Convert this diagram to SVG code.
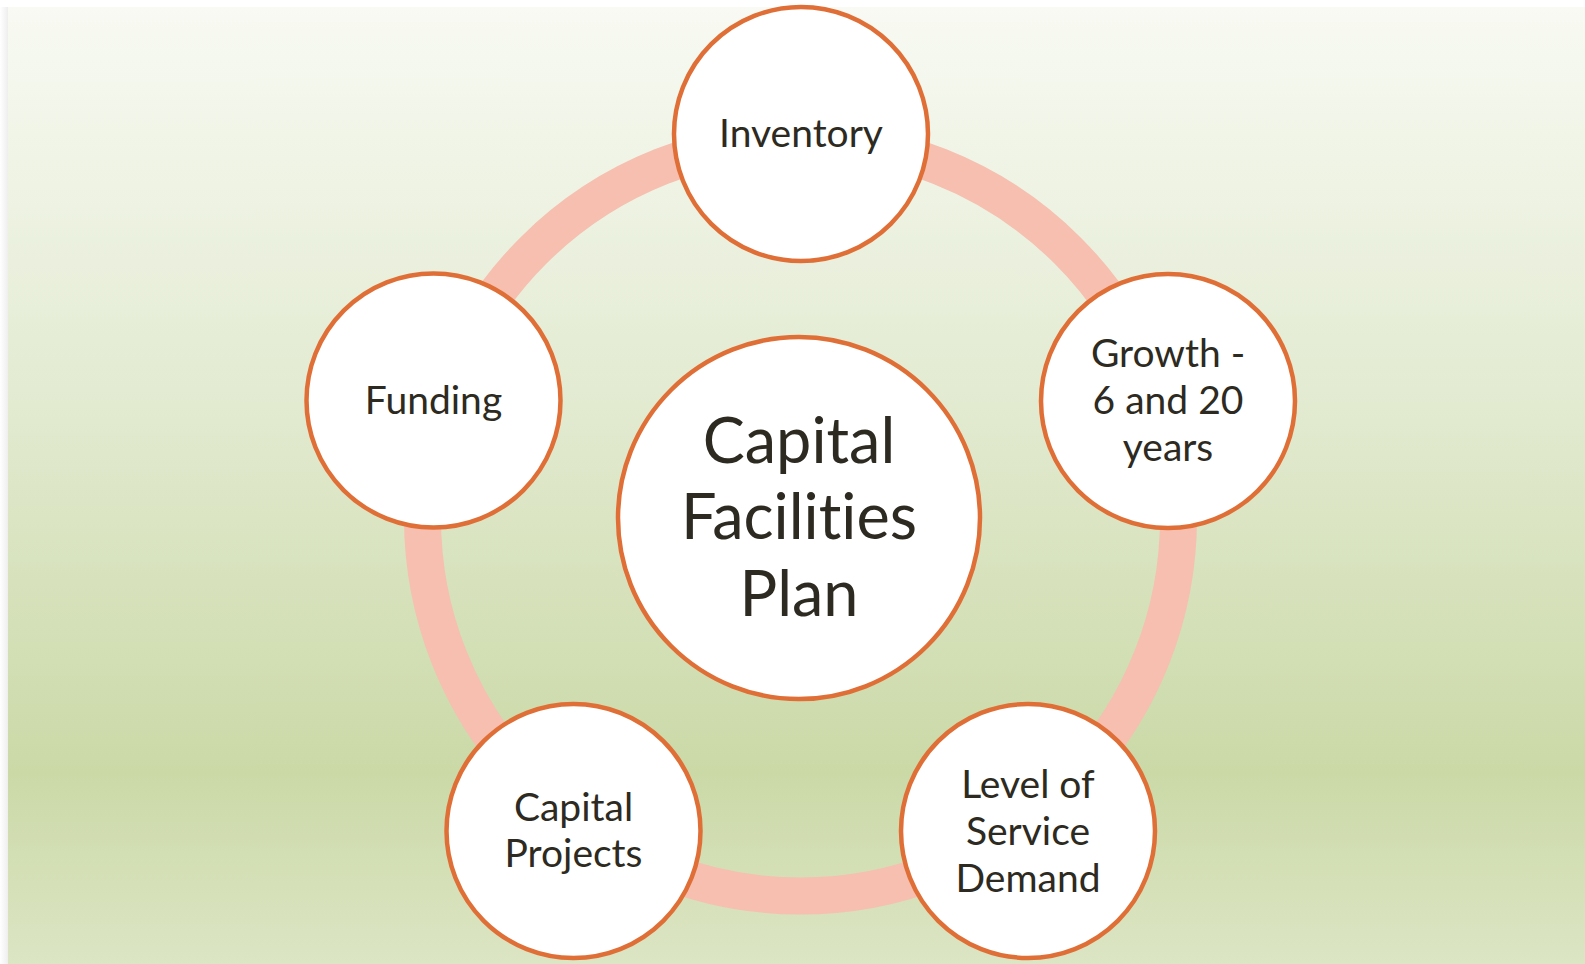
<svg xmlns="http://www.w3.org/2000/svg" width="1585" height="964" viewBox="0 0 1585 964">
  <defs>
    <linearGradient id="bg" x1="0" y1="0" x2="0" y2="1">
      <stop offset="0" stop-color="#f8faf3"/>
      <stop offset="0.4" stop-color="#e3ebd2"/>
      <stop offset="0.8" stop-color="#cbd9a7"/>
      <stop offset="1" stop-color="#dce5c4"/>
    </linearGradient>
    <linearGradient id="edge" x1="0" y1="0" x2="1" y2="0">
      <stop offset="0" stop-color="#ffffff"/>
      <stop offset="1" stop-color="#eeeeee"/>
    </linearGradient>
    <style>
      .node { fill: #ffffff; stroke: #df6f36; stroke-width: 4.5; }
      .ring { fill: none; stroke: #f6bfb0; stroke-width: 37; }
      .lbl { font-family: Lato, "Open Sans", "Liberation Sans", sans-serif; fill: #2d2a21; text-anchor: middle; font-size: 39px; font-variant-ligatures: none; font-feature-settings: "liga" 0, "clig" 0; }
      .big { font-size: 63px; }
    </style>
  </defs>

  <rect x="0" y="0" width="1585" height="964" fill="#ffffff"/>
  <rect x="0" y="7" width="8" height="957" fill="url(#edge)"/>
  <rect x="8" y="7" width="1577" height="957" fill="url(#bg)"/>

  <g id="connectors">
    <circle class="ring" cx="800.5" cy="518" r="378"/>
  </g>

  <g id="center">
    <circle class="node" cx="799" cy="518" r="181"/>
    <text class="lbl big" x="799" y="463">Capital</text>
    <text class="lbl big" x="799" y="539">Facilities</text>
    <text class="lbl big" x="799" y="616">Plan</text>
  </g>

  <g id="inventory">
    <circle class="node" cx="801" cy="134" r="127"/>
    <text class="lbl" x="801" y="147">Inventory</text>
  </g>

  <g id="growth">
    <circle class="node" cx="1168" cy="401" r="127"/>
    <text class="lbl" x="1168" y="367">Growth -</text>
    <text class="lbl" x="1168" y="414">6 and 20</text>
    <text class="lbl" x="1168" y="461">years</text>
  </g>

  <g id="level-of-service">
    <circle class="node" cx="1028" cy="831" r="127"/>
    <text class="lbl" x="1028" y="798">Level of</text>
    <text class="lbl" x="1028" y="845">Service</text>
    <text class="lbl" x="1028" y="892">Demand</text>
  </g>

  <g id="capital-projects">
    <circle class="node" cx="573.5" cy="831" r="127"/>
    <text class="lbl" x="573.5" y="821">Capital</text>
    <text class="lbl" x="573.5" y="867">Projects</text>
  </g>

  <g id="funding">
    <circle class="node" cx="433.5" cy="400.5" r="127"/>
    <text class="lbl" x="433.5" y="414">Funding</text>
  </g>
</svg>
